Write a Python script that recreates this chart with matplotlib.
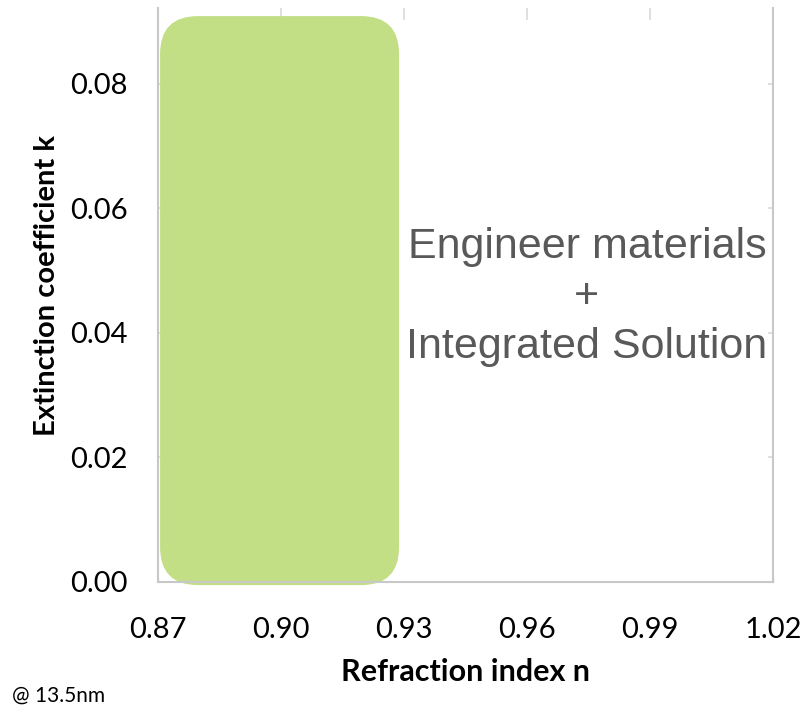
import matplotlib
matplotlib.use("Agg")
import matplotlib.pyplot as plt
from matplotlib.patches import FancyBboxPatch, Rectangle
from matplotlib.ticker import MultipleLocator

# Axis ranges and ticks
n_ticks = [0.87, 0.90, 0.93, 0.96, 0.99, 1.02]
k_ticks = [0.00, 0.02, 0.04, 0.06, 0.08]
n_range = (0.87, 1.02)
k_range = (0.0, 0.0922)

# Highlighted region of accessible materials (n span, k span)
region_n = (0.8705, 0.9288)
region_k = (-0.0005, 0.0909)

annotation = "Engineer materials\n+\nIntegrated Solution"
annotation_pos = (0.9746, 0.0458)

W, H, DPI = 809, 708, 100
fig = plt.figure(figsize=(W / DPI, H / DPI), dpi=DPI)
ax = fig.add_axes([158 / W, 1 - 582 / H, (773 - 158) / W, (582 - 8) / H])

ax.set_xlim(*n_range)
ax.set_ylim(*k_range)

axis_gray = "#c8c8c8"
for side in ["left", "right", "bottom", "top"]:
    ax.spines[side].set_color(axis_gray)
    ax.spines[side].set_linewidth(1.5)
ax.spines["top"].set_visible(False)

ax.set_xticks(n_ticks)
ax.set_xticklabels([f"{v:.2f}" for v in n_ticks])
ax.set_yticks(k_ticks)
ax.set_yticklabels([f"{v:.2f}" for v in k_ticks])
ax.xaxis.set_minor_locator(MultipleLocator(0.01))
ax.tick_params(axis="x", which="both", direction="in", length=3, width=1,
               color=axis_gray, pad=25, labelsize=21)
ax.tick_params(axis="y", which="both", length=0, pad=22, labelsize=21)
for lbl in ax.get_xticklabels() + ax.get_yticklabels():
    lbl.set_fontfamily("Lato")

ax.grid(True, which="major", color="#d9d9d9", linewidth=1.2)
ax.set_axisbelow(True)

# White panel over the interior of the plot area
panel = Rectangle((0.8707, 0.0), 1.0189 - 0.8707, 0.0903,
                  facecolor="white", edgecolor="none", zorder=1)
ax.add_patch(panel)

# Rounded highlight box; rounding expressed in n-units, scaled to k-units
fig.canvas.draw()
px_per_n = ax.transData.transform((1, 0))[0] - ax.transData.transform((0, 0))[0]
px_per_k = ax.transData.transform((0, 1))[1] - ax.transData.transform((0, 0))[1]
aspect = px_per_n / px_per_k
radius_px = 38
box = FancyBboxPatch((region_n[0], region_k[0]),
                     region_n[1] - region_n[0], region_k[1] - region_k[0],
                     boxstyle=f"round,pad=0,rounding_size={radius_px / px_per_n}",
                     mutation_aspect=aspect,
                     facecolor="#c3df86", edgecolor="none", zorder=2, clip_on=False)
ax.add_patch(box)

ax.text(*annotation_pos, annotation, ha="center", va="center",
        fontsize=31, color="#595959", family="Liberation Sans",
        linespacing=1.32, zorder=3)

ax.set_xlabel("Refraction index n", fontsize=22, fontweight="bold",
              family="Lato", labelpad=11)
ax.set_ylabel("Extinction coefficient k", fontsize=21, fontweight="bold",
              family="Lato", labelpad=7)
ax.yaxis.label.set_y(0.517)

fig.text(12 / W, 1 - 696 / H, "@ 13.5nm", fontsize=15, family="Lato",
         va="center", ha="left")

fig.savefig("out.png", dpi=DPI)
